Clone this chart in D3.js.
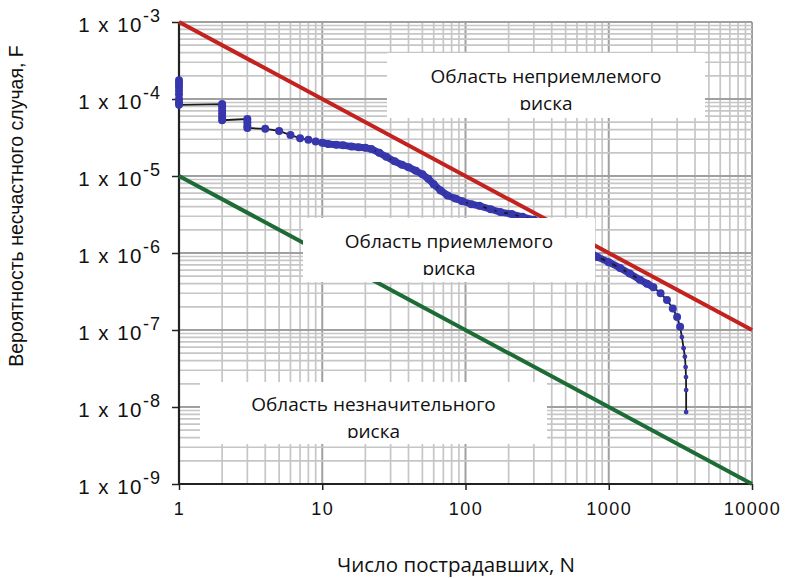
<!DOCTYPE html>
<html>
<head>
<meta charset="utf-8">
<script src="https://cdnjs.cloudflare.com/ajax/libs/d3/7.8.5/d3.min.js"></script>
<style>
    body { margin: 0; background: #fff; }
    svg { display: block; }
</style>
</head>
<body>
<svg id="chart"></svg>
<script>
// F-N diagram data
var pointsN = [1, 1, 1, 1, 1, 1, 1, 1,
    2, 2, 2, 2, 2, 2,
    3, 3, 3, 3,
    4, 5, 6, 7, 8, 9, 10, 11, 12.5, 14, 16, 18, 20, 22, 25, 28, 32, 36, 40, 45, 50, 55, 60, 67, 75, 85, 95,
    110, 125, 150, 175, 210, 250, 300, 350, 420, 500, 600, 700, 830, 1000, 1200, 1400, 1650, 1850, 2050,
    2300, 2550, 2800, 3000, 3150, 3240, 3330, 3400, 3440, 3460, 3470, 3470];
var pointsF = [1.75e-4, 1.6e-4, 1.45e-4, 1.3e-4, 1.15e-4, 1.0e-4, 0.9e-4, 0.84e-4,
    0.86e-4, 0.8e-4, 0.72e-4, 0.65e-4, 0.58e-4, 0.53e-4,
    0.55e-4, 0.5e-4, 0.45e-4, 0.42e-4,
    4.1e-5, 3.85e-5, 3.4e-5, 3.1e-5, 2.95e-5, 2.8e-5, 2.7e-5, 2.6e-5, 2.55e-5, 2.5e-5, 2.42e-5, 2.36e-5, 2.32e-5, 2.25e-5,
    2.0e-5, 1.78e-5, 1.55e-5, 1.4e-5, 1.3e-5, 1.17e-5, 1.05e-5, 9.2e-6, 7.8e-6, 6.5e-6, 5.6e-6, 5.1e-6, 4.7e-6,
    4.3e-6, 4.1e-6, 3.7e-6, 3.4e-6, 3.2e-6, 2.95e-6, 2.7e-6, 2.4e-6, 2.0e-6, 1.7e-6, 1.35e-6, 1.1e-6, 8.9e-7,
    7.6e-7, 6.4e-7, 5.4e-7, 4.5e-7, 4.0e-7, 3.6e-7, 3.0e-7, 2.45e-7, 1.9e-7, 1.48e-7, 1.1e-7, 8.1e-8, 5.8e-8,
    4.5e-8, 3.3e-8, 2.45e-8, 1.66e-8, 8.6e-9];

// criterion lines: unacceptable (upper) and negligible (lower)
var limitN = [1, 10000];
var upperF = [1e-3, 1e-7];
var lowerF = [1e-5, 1e-9];

var xTicks = [1, 10, 100, 1000, 10000];
var xTickLabels = ["1", "10", "100", "1000", "10000"];
var yTicks = [1e-3, 1e-4, 1e-5, 1e-6, 1e-7, 1e-8, 1e-9];
var yTickExp = ["-3", "-4", "-5", "-6", "-7", "-8", "-9"];

var regionLines1 = ["Область неприемлемого", "Область приемлемого", "Область незначительного"];
var regionLines2 = ["риска", "риска", "риска"];

var xTitle = "Число пострадавших, N";
var yTitle = "Вероятность несчастного случая, F";

var width = 787, height = 579;

var svg = d3.select("#chart")
    .attr("width", width)
    .attr("height", height);

var xScale = d3.scaleLog().domain([1, 10000]).range([179, 752]);
var yScale = d3.scaleLog().domain([1e-9, 1e-3]).range([484, 22]);

// grid: minor lines at every multiple, decade lines a bit darker
var gridX = xScale.ticks();
var gridY = yScale.ticks();

function isDecade(v) {
    var l = Math.log10(v);
    return Math.abs(l - Math.round(l)) < 1e-6;
}

svg.append("g").attr("class", "grid-x")
    .selectAll("line")
    .data(gridX)
    .enter().append("line")
    .attr("x1", function (d) { return xScale(d); })
    .attr("x2", function (d) { return xScale(d); })
    .attr("y1", yScale(1e-3))
    .attr("y2", yScale(1e-9))
    .attr("stroke", function (d) { return isDecade(d) ? "#a0a0a0" : "#c6c6c6"; })
    .attr("stroke-width", function (d) { return isDecade(d) ? 2 : 1.7; });

svg.append("g").attr("class", "grid-y")
    .selectAll("line")
    .data(gridY)
    .enter().append("line")
    .attr("x1", xScale(1))
    .attr("x2", xScale(10000))
    .attr("y1", function (d) { return yScale(d); })
    .attr("y2", function (d) { return yScale(d); })
    .attr("stroke", function (d) { return isDecade(d) ? "#a0a0a0" : "#c6c6c6"; })
    .attr("stroke-width", function (d) { return isDecade(d) ? 2 : 1.7; });

// axes
var xAxis = d3.axisBottom(xScale)
    .tickValues(xTicks)
    .tickSize(6)
    .tickFormat(function (d, i) { return xTickLabels[i]; });

var yAxis = d3.axisLeft(yScale)
    .tickValues(yTicks)
    .tickSize(7)
    .tickFormat("");

var gx = svg.append("g")
    .attr("transform", "translate(0," + yScale(1e-9) + ")")
    .call(xAxis);
gx.select(".domain").attr("stroke", "#222").attr("stroke-width", 2.2)
    .attr("d", "M" + xScale(1) + ",0H" + xScale(10000));
gx.selectAll(".tick line").attr("stroke", "#222").attr("stroke-width", 1.5);
gx.selectAll(".tick text")
    .attr("y", 18)
    .attr("dy", "0.71em")
    .attr("fill", "#111")
    .style("font-family", "'Liberation Sans', Arial, sans-serif")
    .style("font-size", "18px")
    .style("letter-spacing", "1.5px");

var gy = svg.append("g")
    .attr("transform", "translate(" + xScale(1) + ",0)")
    .call(yAxis);
gy.select(".domain").attr("stroke", "#222").attr("stroke-width", 2.2)
    .attr("d", "M0," + yScale(1e-3) + "V" + yScale(1e-9));
gy.selectAll(".tick line").attr("stroke", "#222").attr("stroke-width", 1.5);

// tick labels "1 x 10^n" with a raised exponent
gy.selectAll(".tick text").remove();
gy.selectAll(".tick").append("text")
    .attr("x", -18)
    .attr("y", 9)
    .attr("text-anchor", "end")
    .attr("fill", "#111")
    .style("font-family", "'Liberation Sans', Arial, sans-serif")
    .style("font-size", "20.5px")
    .style("letter-spacing", "1.5px")
    .each(function (d, i) {
        var t = d3.select(this);
        t.append("tspan").text("1 x 10");
        t.append("tspan")
            .attr("dy", -10)
            .style("font-size", "18px")
            .style("letter-spacing", "1px")
            .text(yTickExp[i]);
    });

// criterion lines
var line = d3.line()
    .x(function (d) { return xScale(d[0]); })
    .y(function (d) { return yScale(d[1]); });

svg.append("path")
    .datum(d3.zip(limitN, upperF))
    .attr("d", line)
    .attr("fill", "none")
    .attr("stroke", "#c4221f")
    .attr("stroke-width", 4);

svg.append("path")
    .datum(d3.zip(limitN, lowerF))
    .attr("d", line)
    .attr("fill", "none")
    .attr("stroke", "#1d6b35")
    .attr("stroke-width", 4);

// F-N curve
var points = d3.zip(pointsN, pointsF);
var blue = "#3737ad";

// dense part of the curve looks like a thick band of markers
svg.append("path")
    .datum(points.filter(function (d) { return d[0] >= 10 && d[1] > 3e-7; }))
    .attr("d", line)
    .attr("fill", "none")
    .attr("stroke", blue)
    .attr("stroke-width", 7)
    .attr("stroke-linejoin", "round")
    .attr("stroke-linecap", "round");

svg.append("path")
    .datum(points)
    .attr("d", line)
    .attr("fill", "none")
    .attr("stroke", "#1a1a1a")
    .attr("stroke-width", 1.8);

svg.append("g")
    .selectAll("circle")
    .data(points)
    .enter().append("circle")
    .attr("cx", function (d) { return xScale(d[0]); })
    .attr("cy", function (d) { return yScale(d[1]); })
    .attr("r", function (d) { return d[1] < 1e-7 ? 2.4 : 4; })
    .attr("fill", blue);

// region labels on white boxes, second line cut by the box like in the source
var boxes = [
    { x: 387, y: 53, w: 318, h: 65, base: 83 },
    { x: 303, y: 218, w: 292, h: 64, base: 248 },
    { x: 200, y: 382, w: 347, h: 62, base: 411 }
];

var defs = svg.append("defs");

boxes.forEach(function (b, i) {
    defs.append("clipPath")
        .attr("id", "clip" + i)
        .append("rect")
        .attr("x", b.x)
        .attr("y", b.y)
        .attr("width", b.w)
        .attr("height", b.base + 27 - b.y);

    var g = svg.append("g");
    g.append("rect")
        .attr("x", b.x)
        .attr("y", b.y)
        .attr("width", b.w)
        .attr("height", b.h)
        .attr("fill", "#fff");

    var t = g.append("text")
        .attr("clip-path", "url(#clip" + i + ")")
        .attr("text-anchor", "middle")
        .attr("fill", "#111")
        .style("font-family", "'Open Sans', sans-serif")
        .style("font-size", "19px");
    t.append("tspan")
        .attr("x", b.x + b.w / 2)
        .attr("y", b.base)
        .text(regionLines1[i]);
    t.append("tspan")
        .attr("x", b.x + b.w / 2)
        .attr("y", b.base + 27)
        .text(regionLines2[i]);
});

// axis titles
svg.append("text")
    .attr("x", 456)
    .attr("y", 572)
    .attr("text-anchor", "middle")
    .attr("fill", "#111")
    .style("font-family", "'Open Sans', sans-serif")
    .style("font-size", "20.5px")
    .text(xTitle);

svg.append("text")
    .attr("transform", "translate(23,206) rotate(-90)")
    .attr("text-anchor", "middle")
    .attr("fill", "#111")
    .style("font-family", "'Liberation Sans', Arial, sans-serif")
    .style("font-size", "19.5px")
    .text(yTitle);
</script>
</body>
</html>
